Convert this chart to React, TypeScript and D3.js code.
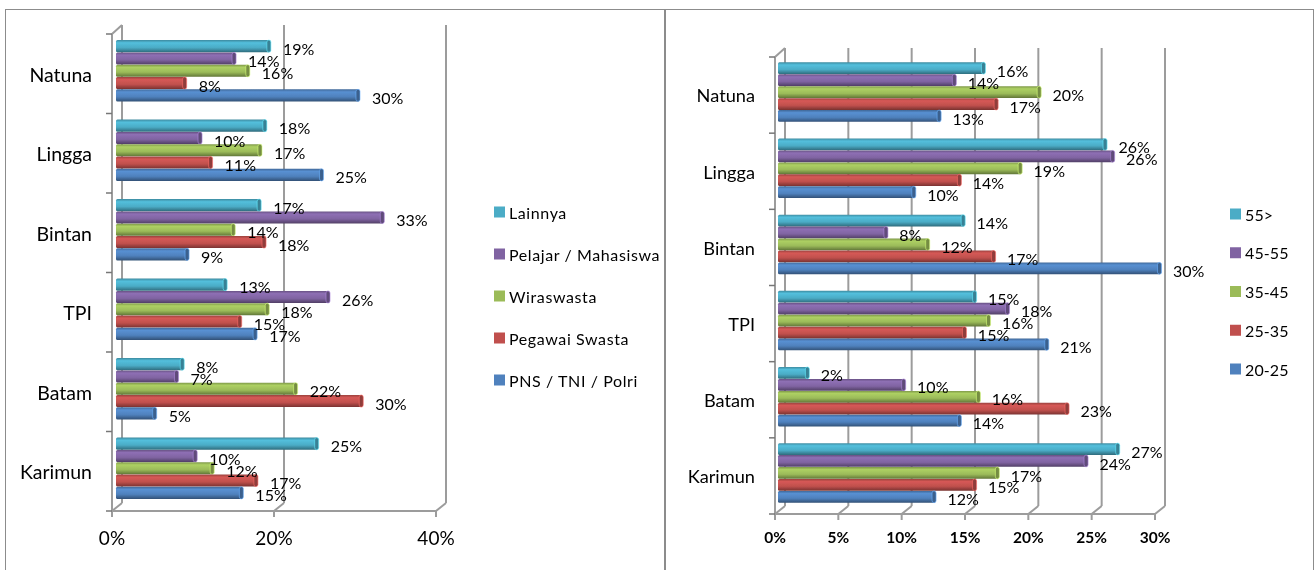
import React from 'react';
import * as d3 from 'd3';

const islands = ['Natuna', 'Lingga', 'Bintan', 'TPI', 'Batam', 'Karimun'];

const seriesColors = ['#4bacc6', '#8064a2', '#9bbb59', '#c0504d', '#4f81bd'];

const jobNames = ['Lainnya', 'Pelajar / Mahasiswa', 'Wiraswasta', 'Pegawai Swasta', 'PNS / TNI / Polri'];
const ageNames = ['55>', '45-55', '35-45', '25-35', '20-25'];

// rows follow the legend order, columns follow islands
const jobValues = [
  [19.0, 18.5, 17.8, 13.6, 8.3, 24.9],
  [14.7, 10.5, 33.0, 26.3, 7.6, 9.9],
  [16.4, 17.9, 14.6, 18.8, 22.3, 12.0],
  [8.6, 11.8, 18.4, 15.4, 30.4, 17.4],
  [30.0, 25.5, 8.9, 17.3, 4.9, 15.6],
];
const jobLabels = [
  [19, 18, 17, 13, 8, 25],
  [14, 10, 33, 26, 7, 10],
  [16, 17, 14, 18, 22, 12],
  [8, 11, 18, 15, 30, 17],
  [30, 25, 9, 17, 5, 15],
];

const ageValues = [
  [16.3, 25.9, 14.7, 15.6, 2.4, 26.9],
  [14.0, 26.5, 8.6, 18.2, 10.0, 24.4],
  [20.7, 19.2, 11.9, 16.7, 15.9, 17.4],
  [17.3, 14.4, 17.1, 14.8, 22.9, 15.6],
  [12.8, 10.8, 30.2, 21.3, 14.4, 12.4],
];
const ageLabels = [
  [16, 26, 14, 15, 2, 27],
  [14, 26, 8, 18, 10, 24],
  [20, 19, 12, 16, 16, 17],
  [17, 14, 17, 15, 23, 15],
  [13, 10, 30, 21, 14, 12],
];

const FONT = 'Lato, "Open Sans", sans-serif';
const WALL = '#9c9c9c';
const DEPTH = 10;

interface ChartProps {
  id: string;
  names: string[];
  values: number[][];
  labels: number[][];
  xMax: number;
  tickCount: number;
  left: number;
  right: number;
  top: number;
  bottom: number;
  step: number;
  barInset: number;
  catX: number;
  catSize: number;
  labelGap: number;
  tickSize: number;
  tickBold: boolean;
  legendX: number;
  legendTop: number;
  legendBottom: number;
  legendSpacing: number;
}

const BarChart: React.FC<ChartProps> = ({
  id, names, values, labels, xMax, tickCount, left, right, top, bottom, step, barInset,
  catX, catSize, labelGap, tickSize, tickBold, legendX, legendTop, legendBottom, legendSpacing,
}) => {
  const x = d3.scaleLinear().domain([0, xMax]).range([left, right]);
  const y = d3.scaleBand<string>().domain(islands).range([top, bottom]);
  const inner = d3.scaleBand<string>()
    .domain(names)
    .range([-step * 2.5, step * 2.5]);
  const legendY = d3.scalePoint<string>().domain(names).range([legendTop, legendBottom]);
  const ticks = x.ticks(tickCount);
  const yEdges = [...islands.map(c => y(c) as number), bottom];
  const barH = step - 0.2;

  return (
    <g>
      <defs>
        {seriesColors.map((c, i) => {
          const base = d3.color(c) as d3.RGBColor;
          return (
            <linearGradient key={c} id={`${id}-bar-${i}`} x1="0" x2="0" y1="0" y2="1">
              <stop offset="0" stopColor={base.darker(0.6).formatHex()} />
              <stop offset="0.22" stopColor={base.brighter(0.3).formatHex()} />
              <stop offset="0.62" stopColor={c} />
              <stop offset="1" stopColor={base.darker(1.3).formatHex()} />
            </linearGradient>
          );
        })}
      </defs>

      {/* back wall and floor */}
      {ticks.map(t => (
        <g key={t} stroke={WALL} strokeWidth={2} fill="none">
          <line x1={x(t) + DEPTH} x2={x(t) + DEPTH} y1={top - 9} y2={bottom - 8} />
          <line x1={x(t)} x2={x(t) + DEPTH} y1={bottom} y2={bottom - 8} />
          <line x1={x(t)} x2={x(t)} y1={bottom} y2={bottom + 6} />
        </g>
      ))}
      <line x1={left} x2={right} y1={bottom} y2={bottom} stroke={WALL} strokeWidth={2} />
      <line x1={left} x2={left} y1={top} y2={bottom} stroke={WALL} strokeWidth={2} />
      <line x1={left} x2={left + DEPTH} y1={top} y2={top - 9} stroke={WALL} strokeWidth={2} />
      {yEdges.map(e => (
        <line key={e} x1={left - 6} x2={left} y1={e} y2={e} stroke="#777" strokeWidth={1.5} />
      ))}

      {/* bars */}
      {names.map((name, s) => (
        <g key={name}>
          {islands.map((c, i) => {
            const cy = (y(c) as number) + y.bandwidth() / 2 - 3 + (inner(name) as number) + inner.bandwidth() / 2;
            const x0 = left + barInset;
            const w = x(values[s][i]) - x(0);
            return (
              <g key={c}>
                <rect x={x0} y={cy - barH / 2} width={w} height={barH} rx={1.5}
                  fill={`url(#${id}-bar-${s})`} />
                <rect x={x0 + w - 3} y={cy - barH / 2} width={4} height={barH} rx={2}
                  fill={(d3.color(seriesColors[s]) as d3.RGBColor).darker(0.8).formatHex()}
                  stroke={(d3.color(seriesColors[s]) as d3.RGBColor).brighter(0.9).formatHex()}
                  strokeWidth={0.6} />
              </g>
            );
          })}
        </g>
      ))}

      {/* value labels */}
      {names.map((name, s) => islands.map((c, i) => {
        const cy = (y(c) as number) + y.bandwidth() / 2 - 3 + (inner(name) as number) + inner.bandwidth() / 2;
        return (
          <text key={name + c} x={x(values[s][i]) + barInset + labelGap} y={cy + 3} dy="0.35em"
            fontFamily={FONT} fontSize={16} fill="#000">
            {labels[s][i]}%
          </text>
        );
      }))}

      {/* category labels */}
      {islands.map(c => (
        <text key={c} x={catX} y={(y(c) as number) + y.bandwidth() / 2 + 1} dy="0.35em" textAnchor="end"
          fontFamily={FONT} fontSize={catSize} fill="#000">
          {c}
        </text>
      ))}

      {/* x ticks */}
      {ticks.map(t => (
        <text key={t} x={x(t)} y={538} dy="0.35em" textAnchor="middle" fontFamily={FONT}
          fontSize={tickSize} fontWeight={tickBold ? 700 : 400} fill="#000">
          {t}%
        </text>
      ))}

      {/* legend */}
      {names.map((name, s) => (
        <g key={name} transform={`translate(${legendX},${legendY(name)})`}>
          <rect x={0} y={-5.5} width={11} height={11} fill={seriesColors[s]} />
          <text x={15} y={1} dy="0.35em" fontFamily={FONT} fontSize={16} letterSpacing={legendSpacing} fill="#000">{name}</text>
        </g>
      ))}
    </g>
  );
};

export default function App() {
  return (
    <svg width={1316} height={570} viewBox="0 0 1316 570"
      style={{ position: 'absolute', left: 0, top: 0, background: '#fff' }}>
      <defs>
        <filter id="soft" x="0" y="0" width="100%" height="100%">
          <feGaussianBlur stdDeviation="0.55" />
        </filter>
      </defs>
      <g filter="url(#soft)">
        <path d="M5,570V9H1314V570M665,9V570" fill="none" stroke="#8c8c8c" strokeWidth={2} />
        <BarChart id="job" names={jobNames} values={jobValues} labels={jobLabels}
          xMax={40} tickCount={2} left={112} right={436} top={34} bottom={511} step={12.3} barInset={4}
          catX={92} catSize={19.5} labelGap={13} tickSize={19} tickBold={false}
          legendX={494} legendTop={212} legendBottom={380} legendSpacing={0.6} />
        <BarChart id="age" names={ageNames} values={ageValues} labels={ageLabels}
          xMax={30} tickCount={6} left={775} right={1155} top={57} bottom={514} step={11.95} barInset={3}
          catX={755} catSize={18.2} labelGap={12.4} tickSize={15.5} tickBold={true}
          legendX={1230} legendTop={214} legendBottom={369} legendSpacing={0.1} />
      </g>
    </svg>
  );
}
